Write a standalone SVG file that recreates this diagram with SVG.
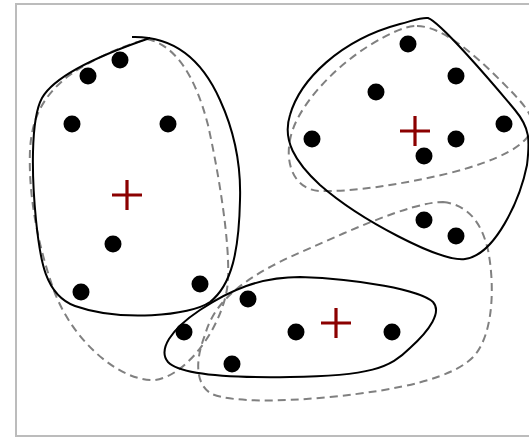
<svg xmlns="http://www.w3.org/2000/svg" width="529" height="438" viewBox="0 0 529 438">
<style>
.frame{fill:none;stroke:#bcbcbc;stroke-width:2}
.hull{fill:none;stroke:#000;stroke-width:2}
.dash{fill:none;stroke:#808080;stroke-width:2;stroke-dasharray:8,5}
.pt{fill:#000}
.ctr{stroke:#8b0000;stroke-width:3.2;fill:none}
</style>
<rect class="frame" x="16" y="4" width="530" height="432"/>
<g id="outlines">
<path class="dash" d="M147,39 C175,45 195,75 208,125 C218,170 230,240 228,280 C226,320 190,375 155,380 C120,382 70,340 52,285 C40,250 28,200 30,150 C32,115 45,95 67,77 C90,60 120,47 147,39 Z"/>
<path class="dash" d="M417,26 C440,26 470,50 500,80 C520,100 535,115 532,128 C528,145 500,160 450,173 C400,185 350,192 320,191 C295,190 285,165 290,140 C295,110 330,70 370,45 C390,33 405,26 417,26 Z"/>
<path class="dash" d="M443,202 C470,205 482,225 488,250 C494,280 495,330 475,355 C455,378 400,390 330,397 C280,402 230,402 212,394 C195,385 195,360 205,335 C212,310 230,285 290,257 C340,235 410,202 443,202 Z"/>
<path class="hull" d="M132,37 C170,36 200,55 220,100 C236,135 241,170 240,200 C239,250 232,285 210,302 C190,316 120,322 75,306 C45,295 40,260 36,220 C32,180 30,120 42,98 C55,75 100,55 150,38"/>
<path class="hull" d="M428,18 C440,22 490,80 515,110 C530,128 530,140 527,165 C520,200 495,255 465,259 C440,262 360,220 320,185 C295,162 282,140 290,115 C300,80 340,40 400,24 C415,20 422,17 428,18 Z"/>
<path class="hull" d="M300,277 C360,279 420,290 433,302 C442,312 430,330 410,348 C390,368 370,376 290,377 C230,378 180,375 168,362 C158,350 170,330 200,310 C230,290 260,277 300,277 Z"/>
</g>
<g id="cluster-left">
<circle class="pt" cx="88" cy="76" r="8.5"/>
<circle class="pt" cx="120" cy="60" r="8.5"/>
<circle class="pt" cx="72" cy="124" r="8.5"/>
<circle class="pt" cx="168" cy="124" r="8.5"/>
<circle class="pt" cx="113" cy="244" r="8.5"/>
<circle class="pt" cx="81" cy="292" r="8.5"/>
<circle class="pt" cx="200" cy="284" r="8.5"/>
<path class="ctr" d="M112,195 H142 M127,180 V210"/>
</g>
<g id="cluster-right">
<circle class="pt" cx="408" cy="44" r="8.5"/>
<circle class="pt" cx="456" cy="76" r="8.5"/>
<circle class="pt" cx="376" cy="92" r="8.5"/>
<circle class="pt" cx="312" cy="139" r="8.5"/>
<circle class="pt" cx="456" cy="139" r="8.5"/>
<circle class="pt" cx="504" cy="124" r="8.5"/>
<circle class="pt" cx="424" cy="156" r="8.5"/>
<circle class="pt" cx="424" cy="220" r="8.5"/>
<circle class="pt" cx="456" cy="236" r="8.5"/>
<path class="ctr" d="M400,131 H430 M415,116 V146"/>
</g>
<g id="cluster-bottom">
<circle class="pt" cx="248" cy="299" r="8.5"/>
<circle class="pt" cx="184" cy="332" r="8.5"/>
<circle class="pt" cx="296" cy="332" r="8.5"/>
<circle class="pt" cx="392" cy="332" r="8.5"/>
<circle class="pt" cx="232" cy="364" r="8.5"/>
<path class="ctr" d="M321,323 H351 M336,308 V338"/>
</g>
</svg>
